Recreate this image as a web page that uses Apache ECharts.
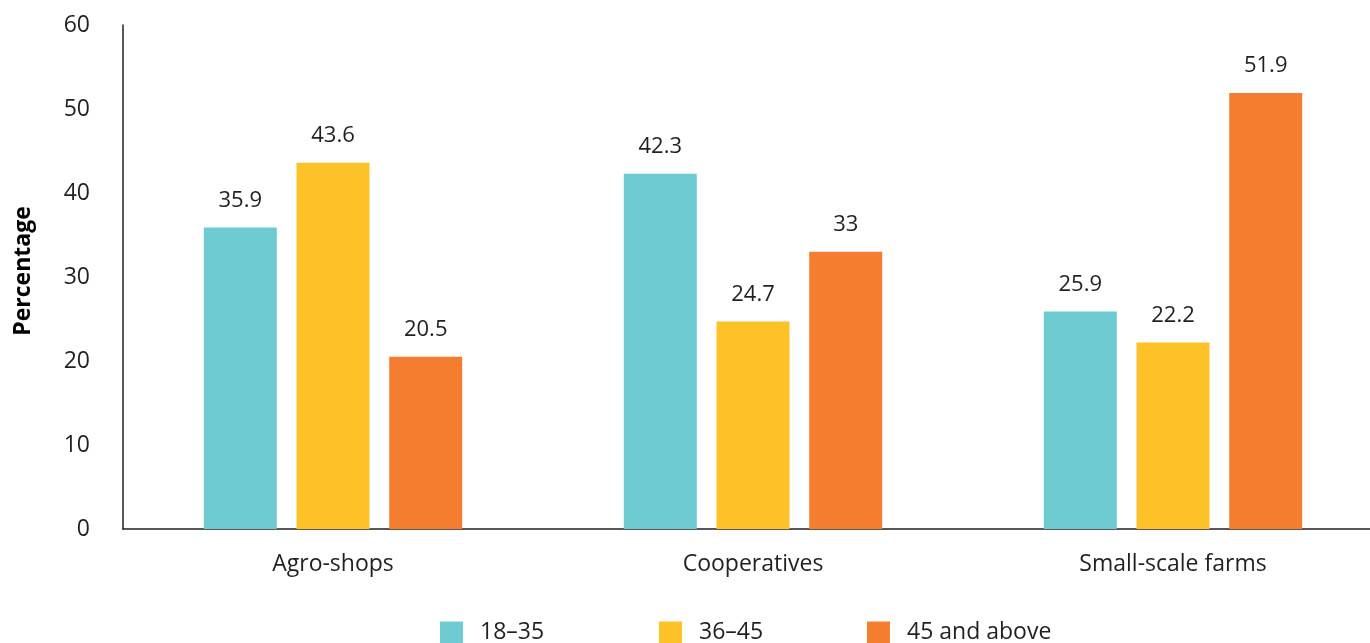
<!DOCTYPE html>
<html>
<head>
<meta charset="utf-8">
<script src="https://cdn.jsdelivr.net/npm/echarts@6/dist/echarts.min.js"></script>
<style>
  html, body { margin: 0; padding: 0; background: #fff; overflow: hidden; }
  /* the plot runs slightly past the right edge of the window */
  #chart { width: 1383px; height: 643px; }
</style>
</head>
<body>
<div id="chart"></div>
<script>
// Chart data
const categories = ['Agro-shops', 'Cooperatives', 'Small-scale farms'];
const seriesNames = ['18–35', '36–45', '45 and above'];
const age18to35 = [35.9, 42.3, 25.9];
const age36to45 = [43.6, 24.7, 22.2];
const age45plus = [20.5, 33, 51.9];
const yTicks = [0, 10, 20, 30, 40, 50, 60];

const colors = ['#6ECBD2', '#FEC229', '#F47D30'];
const textColor = '#231F20';
const fontFamily = '"Open Sans", "Noto Sans", sans-serif';

const chart = echarts.init(document.getElementById('chart'), null, { renderer: 'canvas' });

const valueSets = [age18to35, age36to45, age45plus];
const series = valueSets.map((vals, i) => ({
  name: seriesNames[i],
  type: 'bar',
  data: vals,
  barWidth: 73,
  barGap: '27%',
  itemStyle: { color: colors[i] },
  label: {
    show: true,
    position: 'top',
    distance: 16,
    color: textColor,
    fontSize: 22,
    fontFamily: fontFamily
  }
}));

// One legend block per series so each sits at its own position
const legendLefts = [440, 659, 867];
const legends = seriesNames.map((n, i) => ({
  data: [n],
  left: legendLefts[i],
  top: 621,
  padding: 0,
  itemWidth: 23,
  itemHeight: 22,
  itemGap: 0,
  icon: 'rect',
  textStyle: { color: textColor, fontSize: 23, fontFamily: fontFamily, padding: [0, 0, 0, 12] },
  selectedMode: false
}));

chart.setOption({
  animation: false,
  textStyle: { fontFamily: fontFamily },
  legend: legends,
  grid: { left: 123, top: 25, right: 0, bottom: 114, containLabel: false },
  xAxis: {
    type: 'category',
    data: categories,
    axisLine: { lineStyle: { color: textColor, width: 1.5 } },
    axisTick: { show: false },
    axisLabel: { color: textColor, fontSize: 23, margin: 24, fontFamily: fontFamily }
  },
  yAxis: {
    type: 'value',
    min: 0,
    max: 60,
    interval: 10,
    name: 'Percentage',
    nameLocation: 'middle',
    nameGap: 88,
    nameTextStyle: { color: '#000', fontSize: 23, fontWeight: 'bold', fontFamily: fontFamily, padding: [0, 0, 0, 12] },
    axisLine: { show: true, lineStyle: { color: textColor, width: 1.5 } },
    axisTick: { show: false },
    splitLine: { show: false },
    axisLabel: {
      color: textColor, fontSize: 23, margin: 33, fontFamily: fontFamily,
      formatter: v => (yTicks.indexOf(v) >= 0 ? String(v) : '')
    }
  },
  series: series
});
</script>
</body>
</html>
